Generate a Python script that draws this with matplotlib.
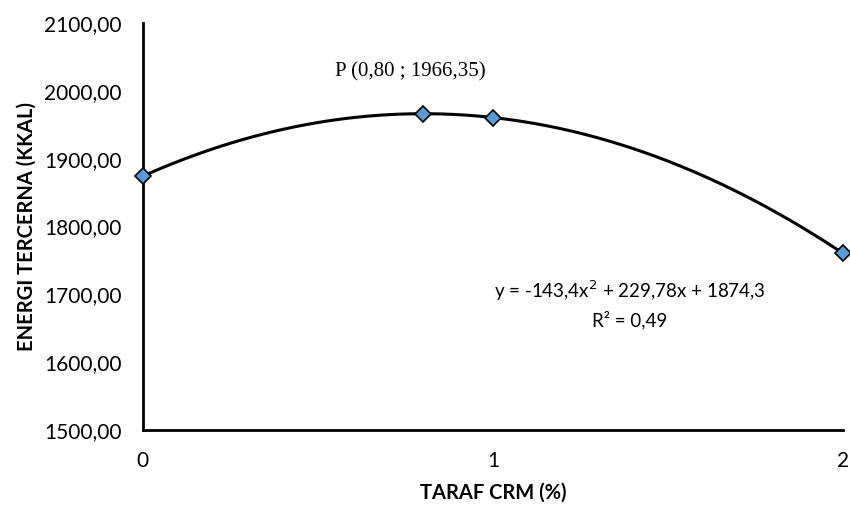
import numpy as np
import matplotlib.pyplot as plt

# data
taraf = [0, 0.8, 1, 2]
energi = [1874.30, 1966.35, 1960.68, 1760.26]
# polynomial trendline coefficients as printed on the chart
trend_coef = [-143.4, 229.78, 1874.3]
x_ticks = [0, 1, 2]
y_ticks = [1500, 1600, 1700, 1800, 1900, 2000, 2100]

fig = plt.figure(figsize=(8.5, 5.13), dpi=100)
ax = fig.add_axes([0.168, 0.162, 0.824, 0.793])

xs = np.linspace(0, 2, 200)
ax.plot(xs, np.polyval(trend_coef, xs), color='black', lw=2.2, zorder=2)
ax.plot(taraf, energi, linestyle='none', marker='D', markersize=8,
        markerfacecolor='#5B9BD5', markeredgecolor='black', markeredgewidth=1.2,
        clip_on=False, zorder=3)

ax.set_xlim(0, 2)
ax.set_ylim(1500, 2100)
ax.set_xticks(x_ticks)
ax.set_yticks(y_ticks)
ax.set_yticklabels([f"{v:.2f}".replace('.', ',') for v in y_ticks])
ax.tick_params(length=0, labelsize=15, pad=15)
for lab in ax.get_xticklabels() + ax.get_yticklabels():
    lab.set_fontfamily('Lato')

for s in ['top', 'right']:
    ax.spines[s].set_visible(False)
for s in ['left', 'bottom']:
    ax.spines[s].set_linewidth(2)

ax.set_xlabel('TARAF CRM (%)', fontsize=14.5, fontweight='bold', family='Lato', va='center')
ax.set_ylabel('ENERGI TERCERNA (KKAL)', fontsize=14.5, fontweight='bold', family='Lato', va='center')
ax.xaxis.set_label_coords(0.5, -0.155)
ax.yaxis.set_label_coords(-0.166, 0.5)

ax.text(0.765, 2028, 'P (0,80 ; 1966,35)', family='Liberation Serif', fontsize=15,
        ha='center', va='center')
ax.text(1.39, 1705, 'y = -143,4x$^2$ + 229,78x + 1874,3', family='Lato', fontsize=13.5,
        ha='center', va='center')
ax.text(1.39, 1662, 'R² = 0,49', family='Lato', fontsize=13.5, ha='center', va='center')

plt.savefig('out.png', dpi=100)
